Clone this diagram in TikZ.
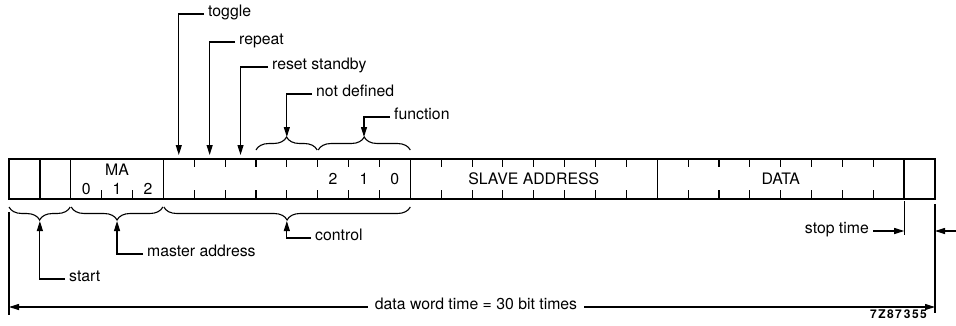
\documentclass[tikz,border=0pt]{standalone}
\usepackage{fontspec}
\setmainfont{TeX Gyre Heros}
\usetikzlibrary{arrows.meta,decorations.pathreplacing,calc}
\begin{document}
\begin{tikzpicture}[x=1pt,y=-1pt,
  frame/.style={line width=1.5pt},
  tick/.style={line width=1.1pt},
  lead/.style={line width=1.1pt},
  arr/.style={lead,-{Triangle[length=10pt,width=6pt]}},
  lbl/.style={font=\fontsize{15.8}{18}\selectfont, inner sep=4pt},
  capt/.style={font=\fontsize{15.8}{18}\selectfont, inner sep=0pt},
  brc/.style={line width=1.1pt, decorate, decoration={brace,amplitude=13pt}},
  brcm/.style={line width=1.1pt, decorate, decoration={brace,mirror,amplitude=13pt}},
]
\useasboundingbox (0,0) rectangle (956,325);
\def\bw{30.87}
% frame
\draw[frame] (9,159) rectangle (935,199);
\foreach \b in {1,2,5,13,21,29}
  \draw[frame] ({9+\b*\bw},159) -- ({9+\b*\bw},199);
\foreach \s in {5,13,21}
  \foreach \k in {1,...,7} {
    \draw[tick] ({9+(\s+\k)*\bw},159) -- ++(0,8);
    \draw[tick] ({9+(\s+\k)*\bw},199) -- ++(0,-9);
  }
\foreach \b in {3,4}
  \draw[tick] ({9+\b*\bw},199) -- ++(0,-9);
% field texts
\node[capt] (ma) at ({9+3.5*\bw},170) {MA};
\node[capt] (ma0) at ({9+2.5*\bw},189) {0};
\node[capt] (ma1) at ({9+3.5*\bw},189) {1};
\node[capt] (ma2) at ({9+4.5*\bw},189) {2};
\node[capt] (f2) at ({9+10.5*\bw},179) {2};
\node[capt] (f1) at ({9+11.5*\bw},179) {1};
\node[capt] (f0) at ({9+12.5*\bw},179) {0};
\node[capt] (sa) at ({9+17*\bw},179) {SLAVE ADDRESS};
\node[capt] (data) at ({9+25*\bw},179) {DATA};
% braces
\draw[brc] ({9+8*\bw},150) -- ({9+10*\bw-0.5},150);
\draw[brc] ({9+10*\bw+0.5},150) -- ({9+13*\bw},150);
\draw[brcm] (9,207) -- ({9+2*\bw-0.5},207);
\draw[brcm] ({9+2*\bw+0.5},207) -- ({9+5*\bw-0.5},207);
\draw[brcm] ({9+5*\bw+0.5},207) -- ({9+13*\bw},207);
% tips
\coordinate (tgtip) at ({9+5.5*\bw},155);
\coordinate (rptip) at ({9+6.5*\bw},155);
\coordinate (rstip) at ({9+7.5*\bw},155);
\coordinate (ndtip) at ({9+9*\bw},137);
\coordinate (fntip) at ({9+11.5*\bw},137);
\coordinate (sttip) at ({9+1*\bw},221);
\coordinate (matip) at ({9+3.5*\bw},221);
\coordinate (cttip) at ({9+9*\bw},221);
% labels
\node[lbl,anchor=mid west] (tg) at (204,14) {toggle};
\node[lbl,anchor=mid west] (rp) at (235,42) {repeat};
\node[lbl,anchor=mid west] (rs) at (268,67) {reset standby};
\node[lbl,anchor=mid west] (nd) at (312,94) {not defined};
\node[lbl,anchor=mid west] (fn) at (390,117) {function};
\node[lbl,anchor=mid west] (st) at (65,279) {start};
\node[lbl,anchor=mid west] (mad) at (143,254) {master address};
\node[lbl,anchor=mid west] (ct) at (311,238) {control};
\draw[arr] (tg.mid west) -| (tgtip);
\draw[arr] (rp.mid west) -| (rptip);
\draw[arr] (rs.mid west) -| (rstip);
\draw[arr] (nd.mid west) -| (ndtip);
\draw[arr] (fn.mid west) -| (fntip);
\draw[arr] (st.mid west) -| (sttip);
\draw[arr] (mad.mid west) -| (matip);
\draw[arr] (ct.mid west) -| (cttip);
% extent lines
\coordinate (l1) at (9,212); \coordinate (l2) at (9,315);
\coordinate (r1) at (935,204); \coordinate (r2) at (935,313);
\coordinate (s1) at ({9+29*\bw},201); \coordinate (s2) at ({9+29*\bw},235);
\draw[lead] (l1) -- (l2);
\draw[lead] (r1) -- (r2);
\draw[lead] (s1) -- (s2);
% stop time
\node[lbl,anchor=mid east] (stp) at (873,231) {stop time};
\coordinate (stpend) at ({9+29*\bw},231);
\draw[arr] (stp.mid east) -- (stpend);
\coordinate (rin) at (956,231);
\coordinate (rend) at (935,231);
\draw[arr] (rin) -- (rend);
% data word time
\node[lbl,anchor=mid,inner sep=7pt] (dw) at (476,307) {data word time = 30 bit times};
\coordinate (dwl) at (9,307);
\coordinate (dwr) at (935,307);
\draw[arr] (dw.mid west) -- (dwl);
\draw[arr] (dw.mid east) -- (dwr);
% code
\node[font=\fontsize{12}{14}\selectfont\bfseries\addfontfeature{LetterSpace=12}, inner sep=0pt, anchor=east] (code) at (927,314) {7Z87\,355};
\end{tikzpicture}
\end{document}
